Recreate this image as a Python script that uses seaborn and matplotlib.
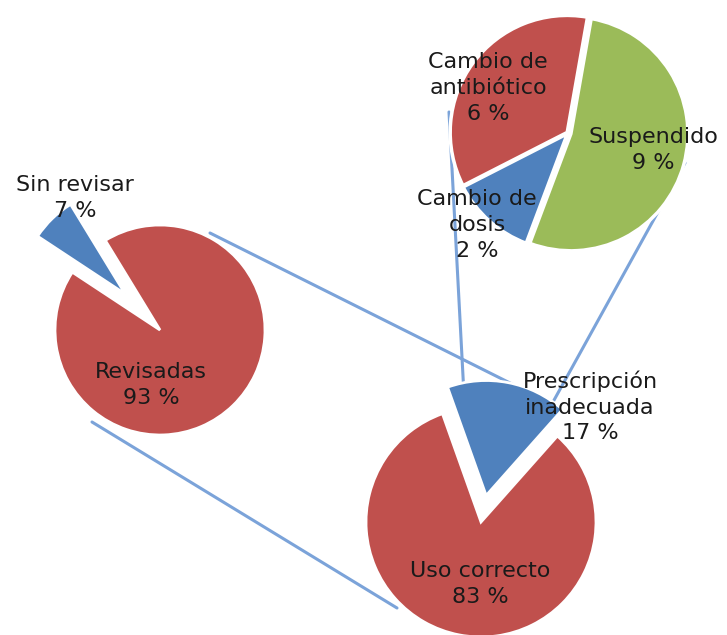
import matplotlib
matplotlib.use("Agg")
import matplotlib.pyplot as plt
import seaborn as sns

# data
revision_labels = ["Sin revisar", "Revisadas"]
revision_values = [7, 93]

uso_labels = ["Prescripción\ninadecuada", "Uso correcto"]
uso_values = [17, 83]

cambio_labels = ["Cambio de\nantibiótico", "Cambio de\ndosis", "Suspendido"]
cambio_values = [6, 2, 9]

sns.set_theme(style="white")
red, blue, green = "#c0504d", "#4f81bd", "#9bbb59"
line_color = "#7ba3d9"

W, H = 727, 635
fig = plt.figure(figsize=(W / 100, H / 100), dpi=100)
ax = fig.add_axes([0, 0, 1, 1])


def fy(y):
    # pixel row -> data y (y axis points up)
    return H - y


wp = dict(edgecolor="white", linewidth=2)

# pie 1: revisadas / sin revisar
ax.pie(revision_values, colors=[blue, red], center=(160, fy(330)), radius=105,
       startangle=121.4, explode=[50, 0], wedgeprops=wp)

# pie 2: prescripcion inadecuada / uso correcto
ax.pie(uso_values, colors=[blue, red], center=(481, fy(522)), radius=115,
       startangle=48.4, explode=[27, 0], wedgeprops=wp)

# pie 3: detalle de cambios
ax.pie(cambio_values, colors=[red, blue, green], center=(568, fy(133)), radius=117,
       startangle=80, explode=[1, 1, 3], wedgeprops=dict(edgecolor="white", linewidth=2.5))

# connector lines
connectors = [((210, 233), (548, 402)),
              ((92, 422), (397, 608)),
              ((449, 112), (464, 395)),
              ((685, 163), (553, 402))]
for (x0, y0), (x1, y1) in connectors:
    ax.plot([x0, x1], [fy(y0), fy(y1)], color=line_color, lw=2.2, zorder=0.5,
            solid_capstyle="round")

# labels
txt = dict(ha="center", va="center", fontsize=16, color="#1a1a1a",
           linespacing=1.35, zorder=10)
ax.text(75, fy(198), f"{revision_labels[0]}\n{revision_values[0]} %", **txt)
ax.text(151, fy(385), f"{revision_labels[1]}\n{revision_values[1]} %", **txt)
ax.text(590, fy(407), f"{uso_labels[0]}\n{uso_values[0]} %", **txt)
ax.text(480, fy(584), f"{uso_labels[1]}\n{uso_values[1]} %", **txt)
ax.text(488, fy(88), f"{cambio_labels[0]}\n{cambio_values[0]} %", **txt)
ax.text(477, fy(225), f"{cambio_labels[1]}\n{cambio_values[1]} %", **txt)
ax.text(653, fy(150), f"{cambio_labels[2]}\n{cambio_values[2]} %", **txt)

ax.set_xlim(0, W)
ax.set_ylim(0, H)
ax.set_aspect("equal")
ax.axis("off")

fig.savefig("out.png", dpi=100, facecolor="white")
